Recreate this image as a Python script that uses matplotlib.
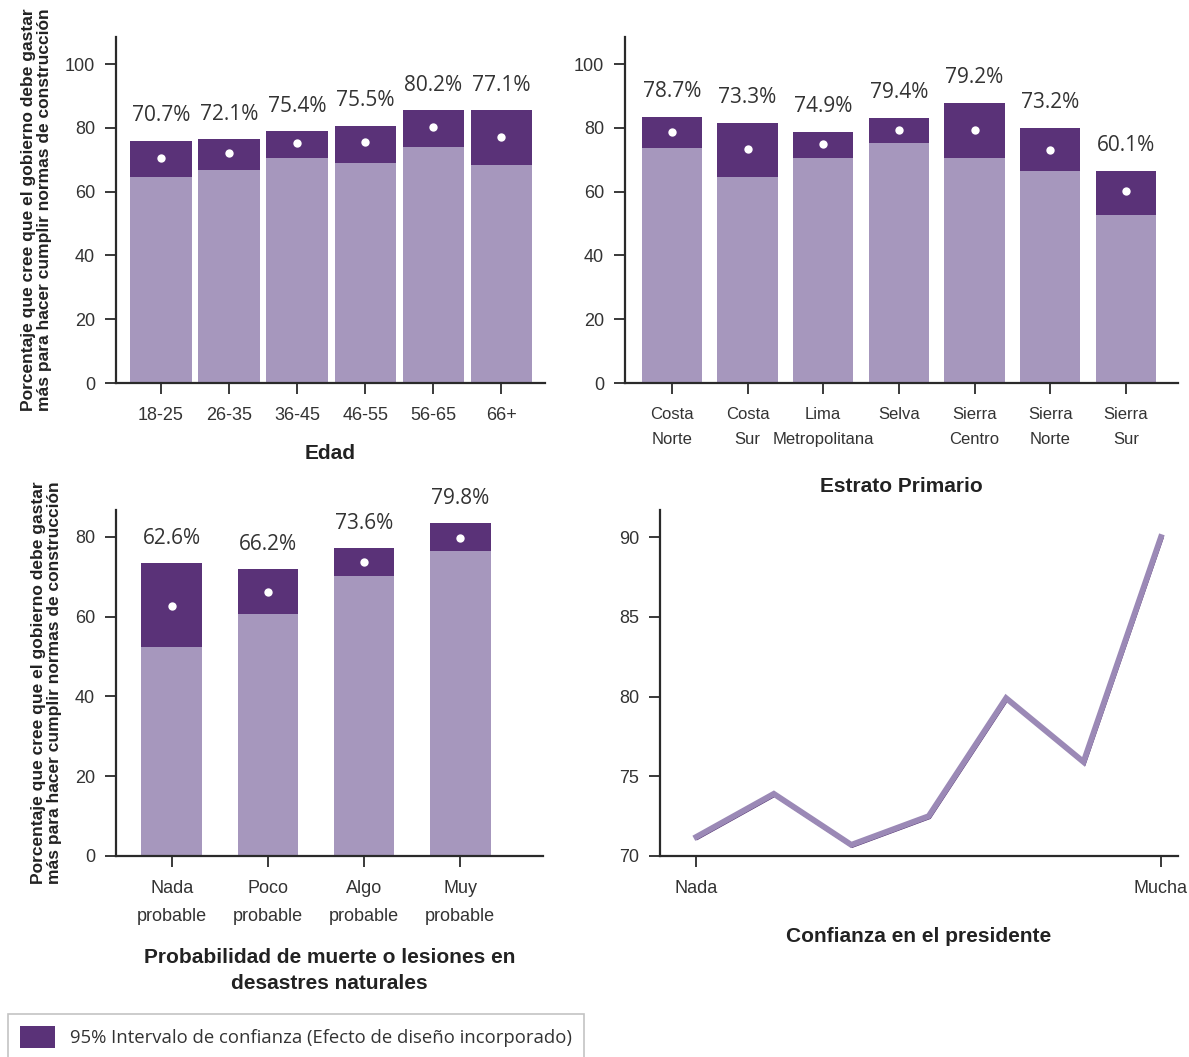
import matplotlib
matplotlib.use('Agg')
import matplotlib.pyplot as plt
import matplotlib.transforms as mtransforms
from matplotlib.patches import Patch
import numpy as np

# ---------------- Data ----------------
edad = ['18-25', '26-35', '36-45', '46-55', '56-65', '66+']
edad_mean = [70.7, 72.1, 75.4, 75.5, 80.2, 77.1]
edad_lo   = [64.6, 66.8, 70.5, 69.0, 74.0, 68.3]
edad_hi   = [75.9, 76.5, 79.0, 80.6, 85.6, 85.6]

estrato = ['Costa\nNorte', 'Costa\nSur', 'Lima\nMetropolitana', 'Selva',
           'Sierra\nCentro', 'Sierra\nNorte', 'Sierra\nSur']
estrato_mean = [78.7, 73.3, 74.9, 79.4, 79.2, 73.2, 60.1]
estrato_lo   = [73.8, 64.7, 70.6, 75.3, 70.6, 66.6, 52.8]
estrato_hi   = [83.5, 81.6, 78.8, 83.2, 87.9, 80.0, 66.6]

prob = ['Nada\nprobable', 'Poco\nprobable', 'Algo\nprobable', 'Muy\nprobable']
prob_mean = [62.6, 66.2, 73.6, 79.8]
prob_lo   = [52.3, 60.6, 70.1, 76.4]
prob_hi   = [73.4, 71.9, 77.1, 83.4]

conf_ticks = ['Nada', 'Mucha']
conf_vals = [71.2, 73.9, 70.7, 72.5, 79.9, 75.9, 90.0]

# ---------------- Style ----------------
LIGHT = '#a697bd'
DARK = '#5a3278'
LINE_DARK = '#4b2a69'
TXT = '#333333'
TICKF = ['Liberation Sans', 'DejaVu Sans']
BOLD = ['Liberation Sans', 'DejaVu Sans']
PCT = ['Open Sans', 'DejaVu Sans']
YLAB = 'Porcentaje que cree que el gobierno debe gastar\nmás para hacer cumplir normas de construcción'

W, H = 1189, 1057
fig = plt.figure(figsize=(W / 100, H / 100), dpi=100)

def box(l, r, t, b):
    return [l / W, 1 - b / H, (r - l) / W, (b - t) / H]

def style_axes(ax, xsize=13):
    for s in ['top', 'right']:
        ax.spines[s].set_visible(False)
    for s in ['left', 'bottom']:
        ax.spines[s].set_linewidth(1.6)
        ax.spines[s].set_color('#2a2a2a')
    ax.tick_params(axis='both', length=8, width=1.3, color='#2a2a2a', labelcolor=TXT)
    ax.tick_params(axis='y', pad=7, labelsize=13)
    ax.tick_params(axis='x', pad=9, labelsize=xsize)

def ci_bars(ax, cats, mean, lo, hi, width):
    x = np.arange(len(cats))
    lo = np.array(lo); hi = np.array(hi)
    ax.bar(x, lo, width=width, color=LIGHT, zorder=2)
    ax.bar(x, hi - lo, bottom=lo, width=width, color=DARK, zorder=2)
    ax.plot(x, mean, 'o', color='white', ms=6, mec='none', zorder=3)
    for xi, m, h in zip(x, mean, hi):
        ax.annotate(f'{m:.1f}%', (xi, h), xytext=(0, 18), textcoords='offset points',
                    ha='center', va='center', fontsize=15, color=TXT, family=PCT)
    ax.set_xticks(x)
    ax.set_xticklabels(cats, linespacing=1.9)

def xtitle(ax, text, pad):
    ax.set_xlabel(text, fontsize=15, fontweight='bold', color='#222222',
                  family=BOLD, labelpad=pad, linespacing=1.5)

def ytitle(ax):
    ax.set_ylabel(YLAB, fontsize=12.5, fontweight='bold', color='#222222',
                  family=BOLD, linespacing=1.1, labelpad=9)

# ---- Edad ----
ax1 = fig.add_axes(box(116, 545, 37, 383))
ci_bars(ax1, edad, edad_mean, edad_lo, edad_hi, 0.9)
ax1.set_ylim(0, 108.5)
ax1.set_xlim(-0.66, 5.64)
ax1.set_yticks([0, 20, 40, 60, 80, 100])
style_axes(ax1)
xtitle(ax1, 'Edad', 15)
ytitle(ax1)

# ---- Estrato Primario ----
ax2 = fig.add_axes(box(625, 1178, 37, 383))
ci_bars(ax2, estrato, estrato_mean, estrato_lo, estrato_hi, 0.8)
ax2.set_ylim(0, 108.5)
ax2.set_xlim(-0.62, 6.69)
ax2.set_yticks([0, 20, 40, 60, 80, 100])
style_axes(ax2, xsize=12)
xtitle(ax2, 'Estrato Primario', 21)

# ---- Probabilidad ----
ax3 = fig.add_axes(box(116, 543, 510, 856))
ci_bars(ax3, prob, prob_mean, prob_lo, prob_hi, 0.63)
ax3.set_ylim(0, 86.7)
ax3.set_xlim(-0.58, 3.86)
ax3.set_yticks([0, 20, 40, 60, 80])
style_axes(ax3)
xtitle(ax3, 'Probabilidad de muerte o lesiones en\ndesastres naturales', 16)
ytitle(ax3)

# ---- Confianza en el presidente ----
ax4 = fig.add_axes(box(660, 1178, 510, 856))
xs = np.arange(len(conf_vals))
shadow = mtransforms.offset_copy(ax4.transData, fig=fig, x=1.0, y=-1.5, units='dots')
ax4.plot(xs, conf_vals, color=LINE_DARK, lw=2.2, transform=shadow, solid_joinstyle='miter')
ax4.plot(xs, conf_vals, color='#9b89b6', lw=4.2, solid_joinstyle='miter')
ax4.set_ylim(70, 91.7)
ax4.set_xlim(-0.47, 6.22)
ax4.set_yticks([70, 75, 80, 85, 90])
ax4.set_xticks([0, len(conf_vals) - 1])
ax4.set_xticklabels(conf_ticks)
style_axes(ax4)
xtitle(ax4, 'Confianza en el presidente', 22)

for ax in (ax1, ax2, ax3, ax4):
    plt.setp(ax.get_xticklabels() + ax.get_yticklabels(), family=TICKF)

# ---- Legend ----
leg = fig.legend(handles=[Patch(facecolor=DARK, edgecolor='none',
                                label='95% Intervalo de confianza (Efecto de diseño incorporado)')],
                 loc='lower left', bbox_to_anchor=(8 / W, -3 / H), frameon=True,
                 fancybox=False, edgecolor='#b5b5b5',
                 handlelength=1.9, handleheight=1.45, borderpad=0.65, handletextpad=0.8,
                 borderaxespad=0, prop={'family': PCT, 'size': 13.3})
leg.get_frame().set_linewidth(1.2)
for t in leg.get_texts():
    t.set_color(TXT)

fig.savefig('out.png', dpi=100)
